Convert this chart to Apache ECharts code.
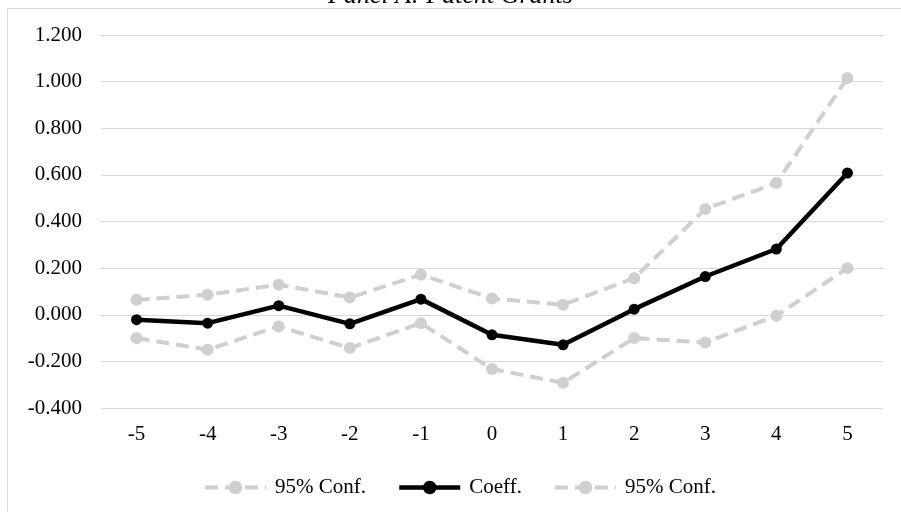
<!DOCTYPE html>
<html>
<head>
<meta charset="utf-8">
<script src="https://cdn.jsdelivr.net/npm/echarts@6/dist/echarts.min.js"></script>
<style>
  html, body { margin: 0; padding: 0; background: #fff; }
  #chart { width: 901px; height: 512px; }
</style>
</head>
<body>
<div id="chart"></div>
<script>
// event time categories
const periods = ['-5', '-4', '-3', '-2', '-1', '0', '1', '2', '3', '4', '5']

// coefficients and 95% bounds
const coeff = [-0.021, -0.036, 0.039, -0.039, 0.067, -0.086, -0.129, 0.024, 0.164, 0.282, 0.608]
const upper = [0.064, 0.086, 0.129, 0.074, 0.172, 0.070, 0.043, 0.157, 0.454, 0.565, 1.016]
const lower = [-0.100, -0.150, -0.050, -0.143, -0.036, -0.233, -0.292, -0.100, -0.119, -0.004, 0.200]

const FONT = '"Liberation Serif", "DejaVu Serif", serif'
const GREY = '#d0cece'

// legend shows the same label for both bounds
const legendNames = { upper: '95% Conf.', coeff: 'Coeff.', lower: '95% Conf.' }

const chart = echarts.init(document.getElementById('chart'))

// 置信区间虚线
const confSeries = (name, data) => ({
  name: name,
  type: 'line',
  data: data,
  symbol: 'circle',
  symbolSize: 12,
  lineStyle: { color: GREY, width: 4, type: [13, 7] },
  itemStyle: { color: GREY },
  emphasis: { disabled: true },
  z: 2
})

chart.setOption({
  animation: false,
  title: {
    text: 'Panel A: Patent Grants',
    left: 'center',
    top: -22,
    textStyle: { fontFamily: FONT, fontStyle: 'italic', fontWeight: 'normal', fontSize: 26, color: '#000' }
  },
  graphic: [
    {
      type: 'rect',
      shape: { x: 7.5, y: 8.5, width: 1000, height: 1000 },
      style: { fill: 'none', stroke: '#d9d9d9', lineWidth: 1 },
      silent: true
    }
  ],
  legend: {
    top: 472,
    left: 198,
    itemWidth: 61,
    itemHeight: 17,
    itemGap: 31,
    formatter: (name) => legendNames[name],
    textStyle: { fontFamily: FONT, fontSize: 21, color: '#000', padding: [0, 0, 0, 4] },
    data: [
      { name: 'upper', lineStyle: { width: 4 } },
      { name: 'coeff', lineStyle: { width: 4.5 } },
      { name: 'lower', lineStyle: { width: 4 } }
    ]
  },
  grid: { left: 101, right: 18, top: 35, bottom: 104 },
  xAxis: {
    type: 'category',
    data: periods,
    axisLine: { show: false },
    axisTick: { show: false },
    axisLabel: { fontFamily: FONT, fontSize: 21, color: '#000', margin: 16 }
  },
  yAxis: {
    type: 'value',
    min: -0.4,
    max: 1.2,
    interval: 0.2,
    axisLine: { show: false },
    axisTick: { show: false },
    splitLine: { lineStyle: { color: '#d9d9d9', width: 1 } },
    axisLabel: {
      fontFamily: FONT,
      fontSize: 21,
      color: '#000',
      margin: 19,
      formatter: (v) => v.toFixed(3)
    }
  },
  series: [
    confSeries('upper', upper),
    {
      name: 'coeff',
      type: 'line',
      data: coeff,
      symbol: 'circle',
      symbolSize: 11,
      lineStyle: { color: '#000', width: 4.5 },
      itemStyle: { color: '#000' },
      emphasis: { disabled: true },
      z: 3
    },
    confSeries('lower', lower)
  ]
})
</script>
</body>
</html>
